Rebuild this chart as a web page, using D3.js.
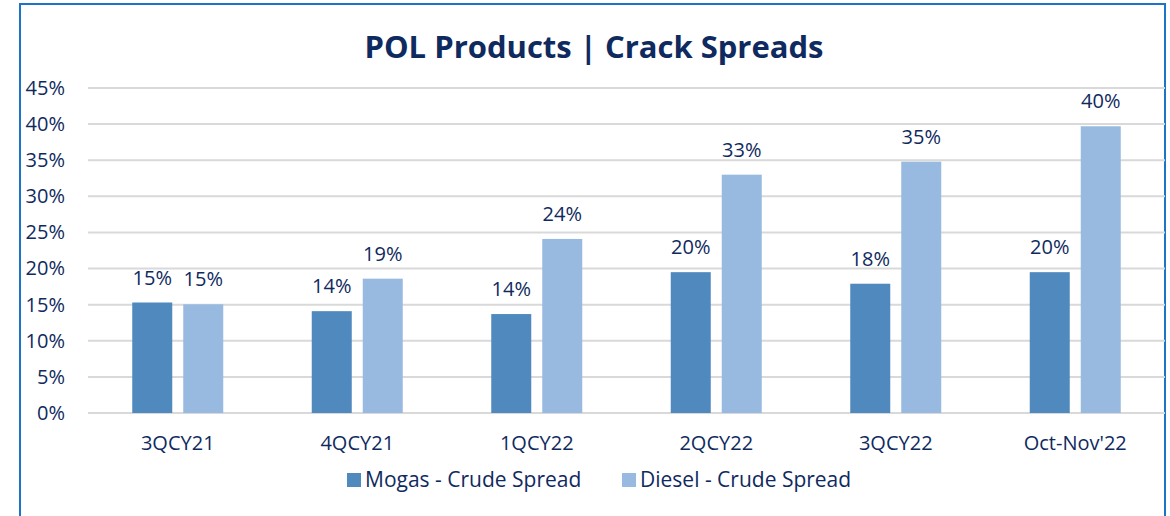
<!DOCTYPE html>
<html lang="en">
<head>
<meta charset="UTF-8">
<title>POL Products | Crack Spreads</title>
<style>
    body{ margin:0; background:#fff; }
    #main{ width:1170px; height:516px; }
    text{ font-family:"Open Sans", sans-serif; fill:#0f2a5e; }
</style>
</head>
<body>
<div id="main"></div>
<script src="https://d3js.org/d3.v7.min.js"></script>
<script>
    // data
    const categories=['3QCY21','4QCY21','1QCY22','2QCY22','3QCY22',"Oct-Nov'22"]
    const seriesNames=['Mogas - Crude Spread','Diesel - Crude Spread']
    const mogas=[15.3,14.1,13.7,19.5,17.9,19.5]
    const diesel=[15.05,18.6,24.1,33.0,34.8,39.7]
    const yTicks=[0,5,10,15,20,25,30,35,40,45]
    const colors=['#4f89bd','#98b9e0']

    const width=1170, height=516
    const svg=d3.select('#main').append('svg')
        .attr('width',width).attr('height',height)
        .attr('viewBox',`0 0 ${width} ${height}`)

    // frame
    svg.append('rect')
        .attr('x',20).attr('y',4).attr('width',1145).attr('height',530)
        .attr('fill','none').attr('stroke','#1b74c9').attr('stroke-width',2)

    svg.append('text')
        .attr('x',594).attr('y',58)
        .attr('text-anchor','middle')
        .style('font-size','31px').style('font-weight','bold')
        .text('POL Products | Crack Spreads')

    const x=d3.scaleBand().domain(categories).range([88,1165])
    const y=d3.scaleLinear().domain([0,45]).range([413,88])

    // grid
    svg.append('g').selectAll('line').data(yTicks).join('line')
        .attr('x1',88).attr('x2',1165)
        .attr('y1',d=>y(d)).attr('y2',d=>y(d))
        .attr('stroke','#d9d9d9').attr('stroke-width',2)

    const yAxis=svg.append('g')
        .attr('transform','translate(65 0)')
        .call(d3.axisLeft(y).tickValues(yTicks).tickFormat(d=>d+'%').tickSize(0).tickPadding(0))
    yAxis.select('.domain').remove()
    yAxis.selectAll('text').style('font-size','20px').style('font-family','"Open Sans", sans-serif').attr('fill','#0f2a5e')

    const xAxis=svg.append('g')
        .attr('transform','translate(0 413)')
        .call(d3.axisBottom(x).tickSize(0).tickPadding(23))
    xAxis.select('.domain').remove()
    xAxis.selectAll('text').style('font-size','20px').style('font-family','"Open Sans", sans-serif').attr('fill','#0f2a5e')

    const barW=40, gap=11
    const series=[mogas,diesel]
    series.forEach((vals,si)=>{
        const off=si===0? -gap/2-barW : gap/2
        const g=svg.append('g')
        g.selectAll('rect').data(vals).join('rect')
            .attr('x',(d,i)=>x(categories[i])+x.bandwidth()/2+off)
            .attr('y',d=>y(d))
            .attr('width',barW)
            .attr('height',d=>y(0)-y(d))
            .attr('fill',colors[si])
        g.selectAll('text').data(vals).join('text')
            .attr('x',(d,i)=>x(categories[i])+x.bandwidth()/2+off+barW/2)
            .attr('y',d=>y(d)-18)
            .attr('text-anchor','middle')
            .style('font-size','20px')
            .text(d=>Math.round(d)+'%')
    })

    // legend
    const legX=[347,622]
    seriesNames.forEach((n,i)=>{
        svg.append('rect').attr('x',legX[i]).attr('y',473).attr('width',14).attr('height',14).attr('fill',colors[i])
        svg.append('text').attr('x',legX[i]+18).attr('y',487).style('font-size','21px').text(n)
    })
</script>
</body>
</html>
